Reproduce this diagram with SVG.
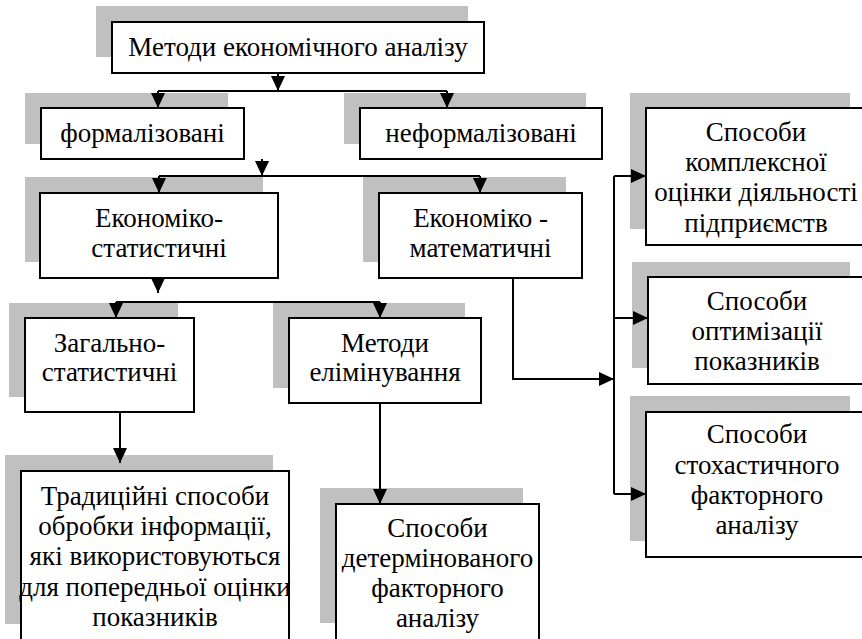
<svg xmlns="http://www.w3.org/2000/svg" width="862" height="639" viewBox="0 0 862 639">
<style>
.sh{fill:#c0c0c0;stroke:none}
.bx{fill:#fff;stroke:#000;stroke-width:2}
.t{font-family:"Liberation Serif","Times New Roman",serif;font-size:27px;fill:#000;text-anchor:middle}
.c{fill:none;stroke:#000;stroke-width:2}
</style>
<defs>
<marker id="ah" markerUnits="userSpaceOnUse" markerWidth="16" markerHeight="14" refX="15" refY="7" orient="auto">
<path d="M0,0 L15,7 L0,14 z" fill="#000"/>
</marker>
</defs>
<rect width="862" height="639" fill="#fff"/>
<g id="n-methods">
<rect class="sh" x="96" y="6" width="372" height="51"/>
<rect class="bx" x="112" y="22" width="372" height="51"/>
<text class="t" x="298" y="56">Методи економічного аналізу</text>
</g>
<g id="n-formal">
<rect class="sh" x="25" y="93" width="203" height="51"/>
<rect class="bx" x="41" y="108" width="203" height="51"/>
<text class="t" x="142.5" y="142">формалізовані</text>
</g>
<g id="n-informal">
<rect class="sh" x="344" y="93" width="242" height="51"/>
<rect class="bx" x="360" y="108" width="242" height="51"/>
<text class="t" x="481" y="142">неформалізовані</text>
</g>
<g id="n-econstat">
<rect class="sh" x="25" y="177" width="238" height="85"/>
<rect class="bx" x="40" y="193" width="238" height="85"/>
<text class="t" x="159" y="227">Економіко-</text>
<text class="t" x="159" y="257">статистичні</text>
</g>
<g id="n-econmath">
<rect class="sh" x="363" y="177" width="203" height="85"/>
<rect class="bx" x="379" y="193" width="203" height="85"/>
<text class="t" x="480.5" y="227">Економіко -</text>
<text class="t" x="480.5" y="257">математичні</text>
</g>
<g id="n-general">
<rect class="sh" x="9" y="303" width="169" height="94"/>
<rect class="bx" x="25" y="318" width="169" height="94"/>
<text class="t" x="109.5" y="352">Загально-</text>
<text class="t" x="109.5" y="381">статистичні</text>
</g>
<g id="n-elim">
<rect class="sh" x="273" y="303" width="192" height="85"/>
<rect class="bx" x="289" y="318" width="192" height="85"/>
<text class="t" x="385" y="352">Методи</text>
<text class="t" x="385" y="381">елімінування</text>
</g>
<g id="n-trad">
<rect class="sh" x="5" y="455" width="268" height="169"/>
<rect class="bx" x="21" y="471" width="268" height="170"/>
<text class="t" x="155" y="505">Традиційні способи</text>
<text class="t" x="155" y="535">обробки інформації,</text>
<text class="t" x="155" y="565">які використовуються</text>
<text class="t" x="155" y="596">для попередньої оцінки</text>
<text class="t" x="155" y="626">показників</text>
</g>
<g id="n-determ">
<rect class="sh" x="320" y="488" width="203" height="135"/>
<rect class="bx" x="336" y="504" width="203" height="137"/>
<text class="t" x="437.5" y="537">Способи</text>
<text class="t" x="437.5" y="567">детермінованого</text>
<text class="t" x="437.5" y="597">факторного</text>
<text class="t" x="437.5" y="627">аналізу</text>
</g>
<g id="n-complex">
<rect class="sh" x="630" y="93" width="220" height="136"/>
<rect class="bx" x="646" y="108" width="220" height="137"/>
<text class="t" x="756" y="141">Способи</text>
<text class="t" x="756" y="171">комплексної</text>
<text class="t" x="756" y="201">оцінки діяльності</text>
<text class="t" x="756" y="232">підприємств</text>
</g>
<g id="n-optim">
<rect class="sh" x="632" y="262" width="218" height="106"/>
<rect class="bx" x="648" y="277" width="220" height="107"/>
<text class="t" x="757" y="310">Способи</text>
<text class="t" x="757" y="340">оптимізації</text>
<text class="t" x="757" y="370">показників</text>
</g>
<g id="n-stoch">
<rect class="sh" x="630" y="396" width="220" height="145"/>
<rect class="bx" x="646" y="412" width="220" height="145"/>
<text class="t" x="757" y="443">Способи</text>
<text class="t" x="757" y="474">стохастичного</text>
<text class="t" x="757" y="504">факторного</text>
<text class="t" x="757" y="534">аналізу</text>
</g>
<g id="connectors">
<path class="c" d="M278,73 V91" marker-end="url(#ah)"/>
<path class="c" d="M158,91 H447"/>
<path class="c" d="M158,91 V108" marker-end="url(#ah)"/>
<path class="c" d="M447,91 V108" marker-end="url(#ah)"/>
<path class="c" d="M262,159 V176" marker-end="url(#ah)"/>
<path class="c" d="M159,176 H480"/>
<path class="c" d="M159,176 V193" marker-end="url(#ah)"/>
<path class="c" d="M480,176 V193" marker-end="url(#ah)"/>
<path class="c" d="M158,278 V293" marker-end="url(#ah)"/>
<path class="c" d="M116,302 H380"/>
<path class="c" d="M116,302 V318" marker-end="url(#ah)"/>
<path class="c" d="M380,302 V318" marker-end="url(#ah)"/>
<path class="c" d="M120,412 V463" marker-end="url(#ah)"/>
<path class="c" d="M380,403 V504" marker-end="url(#ah)"/>
<path class="c" d="M513,278 V379 H614" marker-end="url(#ah)"/>
<path class="c" d="M614,176 V494"/>
<path class="c" d="M614,176 H646" marker-end="url(#ah)"/>
<path class="c" d="M614,318 H648" marker-end="url(#ah)"/>
<path class="c" d="M614,494 H646" marker-end="url(#ah)"/>
</g>
</svg>
